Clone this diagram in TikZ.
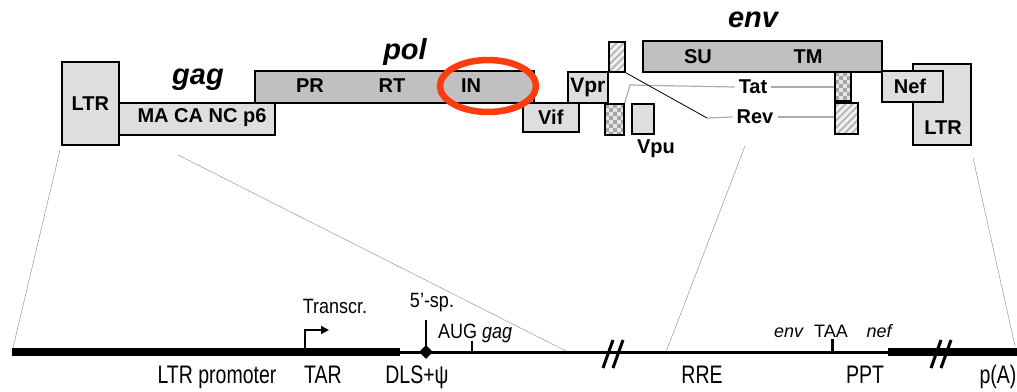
\documentclass[tikz,border=0pt]{standalone}
\usepackage{fontspec}
\usepackage{graphicx}
\setmainfont{Liberation Sans}
\usetikzlibrary{patterns,patterns.meta,shapes.geometric,arrows.meta}
\definecolor{boxlight}{RGB}{222,222,222}
\definecolor{boxdark}{RGB}{192,192,192}
\definecolor{ringred}{RGB}{250,60,15}
\newcommand\tallbot[1]{\scalebox{1}[1.3]{#1}}
\newcommand\tallsmall[1]{\scalebox{1}[1.15]{#1}}
\tikzset{
  gbox/.style={draw=black, line width=1.6pt, inner sep=0pt, anchor=north west},
  lbox/.style={gbox, fill=boxlight},
  dbox/.style={gbox, fill=boxdark},
  hatchbox/.style={gbox, preaction={fill=gray!12}, pattern={Lines[angle=45, distance=5pt, line width=1.7pt]}, pattern color=gray!60},
  checkbox/.style={gbox, fill=gray!20, path picture={
      \foreach \i in {0,...,5}{\foreach \j in {0,...,8}{
        \fill[gray!70] ([xshift={\i*8pt}, yshift={-\j*8pt}]path picture bounding box.north west) rectangle ++(4pt,-4pt);
        \fill[gray!70] ([xshift={\i*8pt+4pt}, yshift={-\j*8pt-4pt}]path picture bounding box.north west) rectangle ++(4pt,-4pt);
      }}}},
  blab/.style={font=\bfseries\fontsize{20}{20}\selectfont, inner sep=1pt},
  gene/.style={font=\bfseries\itshape\fontsize{29}{29}\selectfont, inner sep=0pt},
  mlab/.style={font=\fontsize{19.5}{19.5}\selectfont, inner sep=0pt, anchor=base},
  slab/.style={font=\fontsize{18}{18}\selectfont, inner sep=0pt, anchor=base},
  zoomline/.style={draw=gray!80, line width=0.5pt},
  grayconn/.style={draw=gray!65, line width=1.2pt},
  blackconn/.style={draw=black, line width=0.8pt},
  thickdna/.style={line width=7.5pt},
  thindna/.style={line width=3pt},
  brk/.style={line width=3pt},
  tick/.style={line width=2.5pt},
}
\begin{document}
\begin{tikzpicture}[x=1pt, y=-1pt]
\useasboundingbox (0,0) rectangle (1017,391);

% ---------- genome map ----------
\node[lbox, minimum width=57pt, minimum height=83pt] (ltrL) at (61,61) {};
\node[blab] (ltrLtxt) at (ltrL.center) {LTR};
\node[lbox, minimum width=156pt, minimum height=32pt] (gagbox) at (118,102) {};
\node[blab] (gagtxt) at (202,118) {MA CA NC p6};
\node[gene] (gag) at (198,80) {gag};

\node[dbox, minimum width=279pt, minimum height=32pt] (polbox) at (254,70) {};
\node[blab] (pr) at (310,86) {PR};
\node[blab] (rt) at (392,86) {RT};
\node[blab] (in) at (471,86) {IN};
\node[gene] (pol) at (405,52) {pol};

\node[lbox, minimum width=56pt, minimum height=29pt] (vif) at (522,102) {};
\node[blab] (viftxt) at (vif.center) {Vif};
\node[lbox, minimum width=40pt, minimum height=31pt] (vpr) at (567,71) {};
\node[blab, font=\bfseries\fontsize{21}{21}\selectfont] (vprtxt) at (vpr.center) {Vpr};

\node[hatchbox, minimum width=16pt, minimum height=30pt] (revA) at (608,41) {};
\node[checkbox, minimum width=19pt, minimum height=31pt] (tatA) at (604,103) {};
\node[lbox, minimum width=22pt, minimum height=30pt] (vpu) at (631,103) {};
\node[blab] (vputxt) at (656,149) {Vpu};

\node[dbox, minimum width=239pt, minimum height=31pt] (env) at (642,40) {};
\node[blab] (su) at (698,57) {SU};
\node[blab] (tm) at (808,57) {TM};
\node[gene] (envlbl) at (753,20) {env};

\node[checkbox, minimum width=16pt, minimum height=29pt] (tatB) at (834,71) {};
\node[hatchbox, minimum width=23pt, minimum height=31pt] (revB) at (834,102) {};

\node[lbox, minimum width=58pt, minimum height=81pt] (ltrR) at (912,63) {};
\node[blab] (ltrRtxt) at (943,128) {LTR};
\node[lbox, minimum width=61pt, minimum height=31pt] (nef) at (881,70) {};
\node[blab] (neftxt) at (910,86) {Nef};

\node[blab, inner sep=4pt] (tat) at (753,87) {Tat};
\node[blab, inner sep=4pt] (rev) at (755,117) {Rev};
\coordinate (tatbend) at (630,85);
\coordinate (revbend) at (707,118);
\draw[grayconn] (tatA.north east) -- (tatbend) -- (tat.west);
\draw[grayconn] (tat.east) -- (tatB.west |- tat.east);
\draw[blackconn] (revA.south east) -- (revbend);
\draw[grayconn] (revbend) -- (rev.west);
\draw[grayconn] (rev.east) -- (revB.west |- rev.east);

% red ring around IN
\draw[ringred, line width=6.5pt] (488,86) ellipse [x radius=48pt, y radius=26pt];

% ---------- zoom lines ----------
\coordinate (z1a) at (60,150);
\coordinate (z2a) at (178,155);
\coordinate (z3a) at (745,146);
\coordinate (z4a) at (973,158);
\coordinate (d0) at (12,352);
\coordinate (d1) at (400,352);
\coordinate (z2b) at (568,352);
\coordinate (z3b) at (666,352);
\coordinate (d2) at (888,352);
\coordinate (d3) at (1017,352);
\coordinate (z4b) at (1015,346);
\draw[zoomline] (z1a) -- (d0);
\draw[zoomline] (z2a) -- (z2b);
\draw[zoomline] (z3a) -- (z3b);
\draw[zoomline] (z4a) -- (z4b);

% ---------- proviral DNA line ----------
\draw[thickdna] (d0) -- (d1);
\draw[thindna] (d1) -- (d2);
\draw[thickdna] (d2) -- (d3);

% break marks
\draw[brk] (603,368) -- (613,340);
\draw[brk] (613,368) -- (623,340);
\draw[brk] (931,368) -- (941,340);
\draw[brk] (941,368) -- (951,340);

% transcription start
\coordinate (tss) at (305,348);
\coordinate (tssup) at (305,330);
\coordinate (tssend) at (329,330);
\draw[line width=2pt, -{Triangle[length=8pt,width=8pt]}] (tss) -- (tssup) -- (tssend);
\node[slab] (transcr) at (335,313) {\tallsmall{Transcr.}};

% 5' splice site
\node[diamond, fill=black, inner sep=0pt, minimum size=14pt] (dls) at (426,352) {};
\coordinate (sptop) at (426,320);
\draw[tick] (dls.center) -- (sptop);
\node[slab] (sp) at (432,307) {\tallsmall{5’-sp.}};

% AUG gag
\coordinate (augb) at (472,352);
\coordinate (augt) at (472,341);
\draw[tick] (augb) -- (augt);
\node[slab, anchor=base west] (aug) at (438,338) {\tallsmall{AUG \textit{gag}}};

% env TAA nef
\coordinate (taab) at (832,352);
\coordinate (taat) at (832,339);
\draw[line width=3pt] (taab) -- (taat);
\node[slab] (envs) at (789,337) {\textit{env}};
\node[slab] (taa) at (831,337) {TAA};
\node[slab] (nefs) at (880,337) {\textit{nef}};

% bottom labels
\node[mlab] (ltrp) at (217,383) {\tallbot{LTR promoter}};
\node[mlab] (tar) at (323,383) {\tallbot{TAR}};
\node[mlab] (dlspsi) at (417,383) {\tallbot{DLS+ψ}};
\node[mlab] (rre) at (702,383) {\tallbot{RRE}};
\node[mlab] (ppt) at (865,383) {\tallbot{PPT}};
\node[mlab] (pA) at (998,383) {\tallbot{p(A)}};
\end{tikzpicture}
\end{document}
